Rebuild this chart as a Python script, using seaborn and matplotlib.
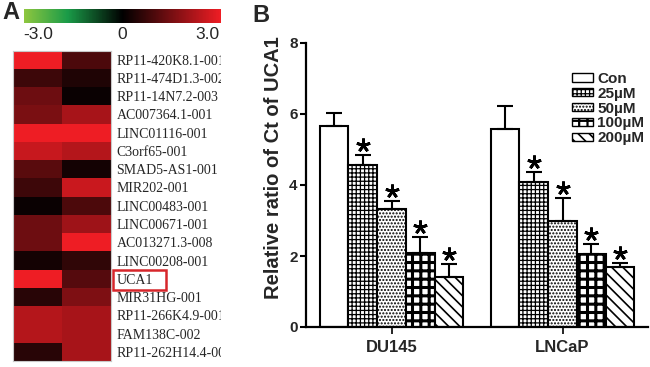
import numpy as np
import pandas as pd
import seaborn as sns
import matplotlib.pyplot as plt
from matplotlib.colors import LinearSegmentedColormap
from matplotlib.patches import Patch, Rectangle
from matplotlib.transforms import offset_copy, Bbox, TransformedBbox

# panel A: heat map of lncRNA expression (two samples)
genes = ['RP11-420K8.1-001', 'RP11-474D1.3-002', 'RP11-14N7.2-003',
         'AC007364.1-001', 'LINC01116-001', 'C3orf65-001', 'SMAD5-AS1-001',
         'MIR202-001', 'LINC00483-001', 'LINC00671-001', 'AC013271.3-008',
         'LINC00208-001', 'UCA1', 'MIR31HG-001', 'RP11-266K4.9-001',
         'FAM138C-002', 'RP11-262H14.4-001']
sample1 = [3.5, 0.9, 1.6, 1.8, 3.5, 2.9, 1.3, 0.9, 0.15, 1.6, 1.6, 0.3, 3.5,
           0.6, 2.65, 2.65, 0.6]
sample2 = [1.1, 0.45, 0.15, 2.45, 3.5, 2.65, 0.3, 2.95, 1.1, 2.3, 3.5, 0.7,
           1.25, 1.85, 2.45, 2.45, 2.45]
cbar_ticks = [-3, 0, 3]
cbar_labels = ['-3.0', '0', '3.0']

# panel B: relative ratio of Ct of UCA1
cells = ['DU145', 'LNCaP']
doses = ['Con', '25µM', '50µM', '100µM', '200µM']
du145_mean = [5.67, 4.56, 3.31, 2.08, 1.40]
du145_err = [0.36, 0.28, 0.25, 0.46, 0.38]
lncap_mean = [5.57, 4.09, 2.99, 2.07, 1.68]
lncap_err = [0.66, 0.29, 0.64, 0.28, 0.11]
signif = [False, True, True, True, True]
hatches = ['', '++++', '.....', '++', '\\\\\\']
hatch_lw = [1.0, 0.9, 1.0, 2.2, 1.2]

sns.set_theme(style='white')
plt.rcParams['font.family'] = ['Liberation Sans', 'DejaVu Sans']
plt.rcParams['hatch.linewidth'] = 1.0

W, H = 650, 367
fig = plt.figure(figsize=(W / 100, H / 100), dpi=100)


def box(x0, y0, x1, y1):
    # pixel box measured from the top-left corner -> figure fraction
    return [x0 / W, 1 - y1 / H, (x1 - x0) / W, (y1 - y0) / H]


ax_hm = fig.add_axes(box(12.7, 50.5, 111, 361))
ax_cb = fig.add_axes(box(24, 9.3, 221, 22.7))
ax_bar = fig.add_axes(box(306, 43, 648, 327))

# ---- heat map
heat = pd.DataFrame({'s1': sample1, 's2': sample2}, index=genes)
cmap = LinearSegmentedColormap.from_list(
    'gkr', [(0, '#8dc63f'), (0.22, '#1a9b48'), (0.5, '#000000'),
            (1, '#ee1d24')])
sns.heatmap(heat, ax=ax_hm, cmap=cmap, vmin=-3.5, vmax=3.5, cbar_ax=ax_cb,
            cbar_kws={'orientation': 'horizontal', 'ticks': cbar_ticks},
            xticklabels=False, yticklabels=True)
cbar = ax_hm.collections[0].colorbar
cbar.set_ticklabels(cbar_labels)
cbar.outline.set_visible(False)
ax_cb.tick_params(length=0, labelsize=12.5, pad=3)

ax_hm.yaxis.tick_right()
ax_hm.tick_params(axis='y', length=0, pad=4, labelsize=10, labelrotation=0)
for sp in ax_hm.spines.values():
    sp.set_visible(True)
    sp.set_color('#c8c8c8')
    sp.set_linewidth(0.8)

clip = TransformedBbox(Bbox.from_extents(0, 0, 221 / W, 1), fig.transFigure)
for lbl in ax_hm.get_yticklabels():
    lbl.set_fontfamily('Liberation Serif')
    lbl.set_clip_box(clip)
    lbl.set_clip_on(True)
for lbl in ax_cb.get_xticklabels():
    lbl.set_clip_box(clip)
    lbl.set_clip_on(True)

i = genes.index('UCA1')
ax_hm.add_patch(Rectangle((2.04, i + 0.02), 1.08, 1.11, fill=False,
                          ec='#d7262b', lw=1.8, clip_on=False))

# ---- bar chart
df = pd.DataFrame({'cell': np.repeat(cells, len(doses)),
                   'dose': doses * len(cells),
                   'ratio': du145_mean + lncap_mean,
                   'err': du145_err + lncap_err,
                   'star': signif * len(cells)})
sns.barplot(data=df, x='cell', y='ratio', hue='dose', order=cells,
            hue_order=doses, palette=['white'] * len(doses), saturation=1,
            edgecolor='black', linewidth=1.5, width=0.84, errorbar=None,
            legend=False, ax=ax_bar)

bars = sorted([p for p in ax_bar.patches if p.get_width() > 0],
              key=lambda p: p.get_x())
for j, p in enumerate(bars):
    p.set_hatch(hatches[j % len(doses)])
    if hasattr(p, 'set_hatch_linewidth'):
        p.set_hatch_linewidth(hatch_lw[j % len(doses)])
xs = np.array([p.get_x() + p.get_width() / 2 for p in bars])

ax_bar.errorbar(xs, df['ratio'], yerr=[np.zeros(len(df)), df['err']],
                fmt='none', ecolor='black', elinewidth=1.5, capsize=5.5,
                capthick=1.5)
tops = df['ratio'] + df['err']
m = df['star'].values
ax_bar.plot(xs[m], tops[m], ls='none', marker=(5, 2, 0), ms=10, mew=2,
            color='black', clip_on=False,
            transform=offset_copy(ax_bar.transData, fig=fig, y=10,
                                  units='dots'))

ax_bar.set_ylim(0, 8)
ax_bar.set_xlim(-0.5, 1.5)
ax_bar.set_yticks([0, 2, 4, 6, 8])
sns.despine(ax=ax_bar)
for side in ['left', 'bottom']:
    ax_bar.spines[side].set_linewidth(1.6)
    ax_bar.spines[side].set_color('black')
ax_bar.tick_params(axis='y', left=True, length=4, width=1.5, labelsize=11,
                   pad=2, color='black')
ax_bar.tick_params(axis='x', bottom=True, length=5, width=1.2, labelsize=12,
                   pad=4, color='black')
for lbl in ax_bar.get_xticklabels() + ax_bar.get_yticklabels():
    lbl.set_fontweight('bold')
ax_bar.set_xlabel('')
ax_bar.set_ylabel('Relative ratio of Ct of UCA1', fontsize=14.5,
                  fontweight='bold')
ax_bar.yaxis.set_label_coords(-0.068, 0.56)

handles = [Patch(facecolor='white', edgecolor='black', hatch=h, lw=1)
           for h in hatches]
leg = fig.legend(handles, doses, loc='upper left',
                 bbox_to_anchor=(571.5 / W, 1 - 72 / H), frameon=False,
                 prop={'weight': 'bold', 'size': 11}, handlelength=1.4,
                 handleheight=0.45, handletextpad=0.3, labelspacing=0.05,
                 borderpad=0, borderaxespad=0)
for h, lw in zip(leg.get_patches(), hatch_lw):
    if hasattr(h, 'set_hatch_linewidth'):
        h.set_hatch_linewidth(min(lw, 1.6))

fig.text(2 / W, 1 - 1 / H, 'A', fontsize=17, fontweight='bold', va='top')
fig.text(252 / W, 1 - 4 / H, 'B', fontsize=17, fontweight='bold', va='top')

fig.savefig('out.png', dpi=100)
